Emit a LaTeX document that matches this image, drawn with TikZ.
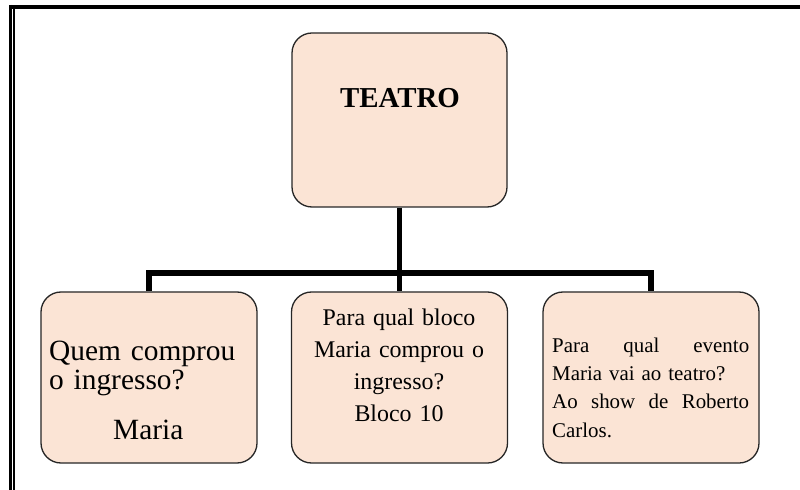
\documentclass[tikz,border=0pt]{standalone}
\usepackage{fontspec}
\setmainfont{Liberation Serif}
\definecolor{peach}{HTML}{FBE4D5}
\begin{document}
\begin{tikzpicture}[x=1bp,y=-1bp,
  box/.style={draw=black!85, line width=1.3bp, fill=peach, rounded corners=20bp,
    minimum width=216bp, minimum height=171bp, inner sep=0},
  conn/.style={line width=5.5bp, line join=miter},
  txt/.style={inner sep=0, anchor=base}]
\useasboundingbox (0,0) rectangle (800,490);
% page frame
\draw[line width=4bp] (9,7) -- (800,7);
\draw[line width=2.6bp] (10.3,5) -- (10.3,490);
\draw[line width=2bp] (14,9) -- (14,490);
% connectors
\coordinate (bus) at (400,273);
% boxes
\node[box, minimum width=215bp, minimum height=174bp] (top) at (399.5,120) {};
\node[box] (lft) at (149,377.5) {};
\node[box] (mid) at (399.5,377.5) {};
\node[box] (rgt) at (651,377.5) {};
\draw[conn] (top.south) -- (mid.north);
\draw[conn] (lft.north) -- (lft.north |- bus) -- (rgt.north |- bus) -- (rgt.north);
% texts
\node[txt, font=\bfseries\fontsize{29}{29}\selectfont] (teatro) at (400,108) {TEATRO};
\node[txt, anchor=base west, text width=200bp, align=left, font=\fontsize{29.5}{30}\selectfont] (ltext) at (49,360)
  {Quem comprou\\o ingresso?\\[20bp]\hspace*{64bp}Maria};
\node[txt, text width=200bp, align=center, font=\fontsize{24}{32.3}\selectfont] (mtext) at (399,325)
  {Para qual bloco\\Maria comprou o\\ingresso?\\Bloco 10};
\node[txt, anchor=base west, text width=197bp, align=left, font=\fontsize{21}{28.5}\selectfont] (rtext) at (552,352)
  {Para\hfill qual\hfill evento\\Maria vai ao teatro?\\Ao\hfill show\hfill de\hfill Roberto\\Carlos.};
\end{tikzpicture}
\end{document}
